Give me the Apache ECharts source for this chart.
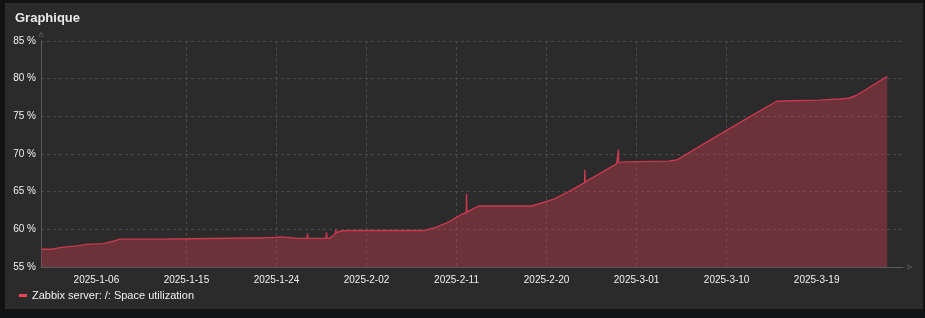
<!DOCTYPE html>
<html>
<head>
<meta charset="utf-8">
<script src="https://cdn.jsdelivr.net/npm/echarts@6/dist/echarts.min.js"></script>
<style>
html,body{margin:0;padding:0;background:#111214;}
#chart{width:925px;height:318px;}
</style>
</head>
<body>
<div id="chart"></div>
<script>
// Days relative to 2025-01-06 (day 0)
const dayOffsets = [
  -5.5, -4.5, -4.45, -3.5, -2.0, -1.0, 0.65, 0.8, 1.8, 2.3, 7.3, 7.35,
  15.5, 15.6, 15.75, 16.5, 16.6, 16.75, 17.3, 17.4, 17.55, 18.1, 18.25, 18.5, 18.65,
  19.7, 19.85, 20.0, 21.05, 21.1, 21.15, 22.95, 23.0, 23.05, 23.3, 23.7, 23.9, 23.93, 23.97,
  24.4, 25.0, 32.8, 34.0, 35.0, 35.5, 36.0, 36.5, 36.97, 37.0, 37.03, 37.5, 38.26,
  43.5, 45.0, 45.8, 47.5, 48.8, 48.83, 48.86, 50.0, 52.0, 52.15, 52.18, 52.21, 52.8,
  57.2, 58.0, 61.8, 65.0, 68.0, 69.5, 72.3, 72.4, 74.3, 75.2, 76.0, 79.06
];
const utilization = [
  57.35, 57.35, 57.45, 57.6, 57.8, 58.0, 58.1, 58.3, 58.45, 58.7, 58.72, 58.82,
  58.85, 58.97, 58.85, 58.85, 59.0, 58.9, 58.9, 59.0, 58.9, 58.95, 58.85, 59.0, 58.85,
  58.85, 58.95, 58.8, 58.8, 59.45, 58.8, 58.8, 59.6, 58.8, 58.8, 59.2, 59.5, 60.0, 59.55,
  59.75, 59.85, 59.85, 60.3, 60.85, 61.2, 61.6, 62.0, 62.2, 64.7, 62.3, 62.6, 63.1,
  63.1, 63.7, 64.05, 65.2, 66.2, 67.9, 66.3, 67.15, 68.7, 68.8, 70.6, 68.85, 68.95,
  69.05, 69.2, 72.2, 74.7, 77.0, 77.07, 77.15, 77.25, 77.3, 77.4, 77.8, 80.3
];
// tick positions (days from 2025-01-06) and their labels
const xTickDays = [0, 9, 18, 27, 36, 45, 54, 63, 72];
const xTickLabels = ['2025-1-06','2025-1-15','2025-1-24','2025-2-02','2025-2-11','2025-2-20','2025-3-01','2025-3-10','2025-3-19'];
const yTicks = [55, 60, 65, 70, 75, 80, 85];
const seriesName = 'Zabbix server: /: Space utilization';
const chartTitle = 'Graphique';

const xMin = -5.54;
const xMax = 80.63;

const points = dayOffsets.map((d, i) => [d, utilization[i]]);
const hollowArrow = 'path://M5,0 L10,9 L0,9 Z M5,3.2 L2.3,7.9 L7.7,7.9 Z';
const FONT = 'Arial, Liberation Sans, sans-serif';

const chart = echarts.init(document.getElementById('chart'), null, {renderer: 'canvas'});
chart.setOption({
  animation: false,
  backgroundColor: '#111214',
  graphic: [{
    type: 'rect', z: -10, silent: true,
    shape: {x: 5, y: 3, width: 918, height: 306},
    style: {fill: '#2b2b2b'}
  }],
  title: {
    text: chartTitle, left: 15, top: 12, padding: 0,
    textStyle: {color: '#e8e8e8', fontSize: 13, fontWeight: 'bold', fontFamily: FONT}
  },
  legend: {
    left: 14, top: 285,
    icon: 'rect', itemWidth: 8, itemHeight: 3, itemGap: 10,
    textStyle: {color: '#f0f0f0', fontSize: 11, fontFamily: FONT},
    data: [seriesName]
  },
  grid: {left: 41, right: 22, top: 41, bottom: 51, containLabel: false},
  xAxis: {
    type: 'value', min: xMin, max: xMax,
    axisLine: {show: true, onZero: false, lineStyle: {color: '#5a5a5a', width: 1},
      symbol: ['none', hollowArrow], symbolSize: [6, 5], symbolOffset: [0, 7]},
    axisTick: {show: false, customValues: xTickDays},
    axisLabel: {
      color: '#f0f0f0', fontSize: 10, margin: 8, fontFamily: FONT,
      customValues: xTickDays,
      formatter: v => {
        const idx = xTickDays.findIndex(t => Math.abs(t - v) < 1e-6);
        return idx >= 0 ? xTickLabels[idx] : '';
      }
    },
    splitLine: {show: true, showMinLine: false, showMaxLine: false, lineStyle: {color: '#4a4a4a', type: [3, 3]}}
  },
  yAxis: {
    type: 'value', min: yTicks[0], max: yTicks[yTicks.length - 1], interval: 5,
    axisLine: {show: true, onZero: false, lineStyle: {color: '#5a5a5a', width: 1},
      symbol: ['none', hollowArrow], symbolSize: [6, 5], symbolOffset: [0, 7]},
    axisTick: {show: false},
    axisLabel: {color: '#f0f0f0', fontSize: 10, margin: 5, fontFamily: FONT,
      formatter: v => v + ' %'},
    splitLine: {show: true, showMinLine: false, lineStyle: {color: '#4a4a4a', type: [3, 3]}}
  },
  series: [{
    name: seriesName,
    type: 'line',
    data: points,
    showSymbol: false,
    symbol: 'none',
    color: '#f0435a',
    lineStyle: {color: '#c8384f', width: 1.4},
    areaStyle: {color: 'rgb(192,60,78)', opacity: 0.43, origin: 'start'}
  }]
});
</script>
</body>
</html>
